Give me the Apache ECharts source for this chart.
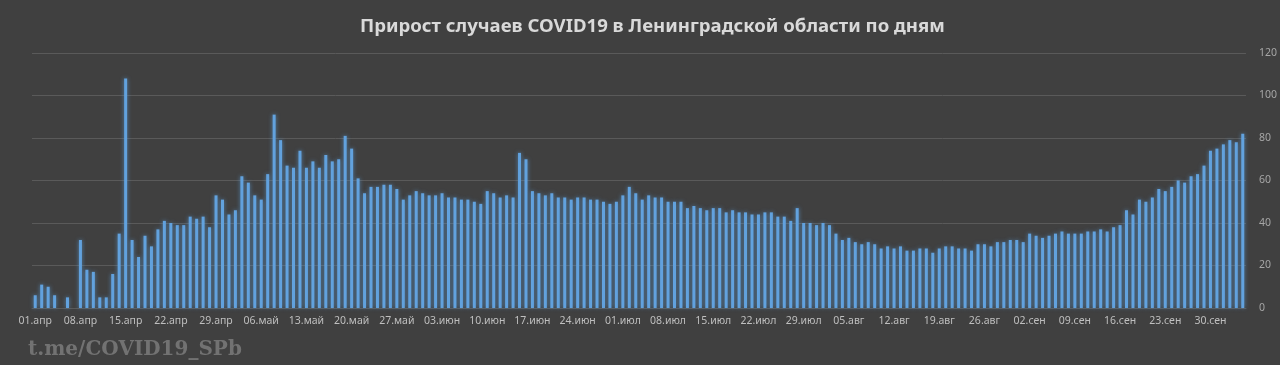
<!DOCTYPE html>
<html><head><meta charset="utf-8">
<script src="https://cdn.jsdelivr.net/npm/echarts@6/dist/echarts.min.js"></script>
<style>html,body{margin:0;padding:0;background:#404040;}#c{width:1280px;height:365px;}</style>
</head><body><div id="c"></div>
<script>
const months = [['апр',30],['май',31],['июн',30],['июл',31],['авг',31],['сен',30],['окт',5]];
const apr = [6,11,10,6,0,5,0,32,18,17,5,5,16,35,108,32,24,34,29,37,41,40,39,39,43,42,43,38,53,51];
const may = [44,46,62,59,53,51,63,91,79,67,66,74,66,69,66,72,69,70,81,75,61,54,57,57,58,58,56,51,53,55,54];
const jun = [53,53,54,52,52,51,51,50,49,55,54,52,53,52,73,70,55,54,53,54,52,52,51,52,52,51,51,50,49,50];
const jul = [53,57,54,51,53,52,52,50,50,50,47,48,47,46,47,47,45,46,45,45,44,44,45,45,43,43,41,47,40,40,39];
const aug = [40,39,35,32,33,31,30,31,30,28,29,28,29,27,27,28,28,26,28,29,29,28,28,27,30,30,29,31,31,32,32];
const sep = [31,35,34,33,34,35,36,35,35,35,36,36,37,36,38,39,46,44,51,50,52,56,55,57,60,59,62,63,67,74];
const oct = [75,77,79,78,82];
const yTicks = [0,20,40,60,80,100,120];

const categories = [];
months.forEach(([m,n]) => { for (let d = 1; d <= n; d++) categories.push((d<10?'0':'')+d+'.'+m); });
const values = [].concat(apr, may, jun, jul, aug, sep, oct);

const chart = echarts.init(document.getElementById('c'));
chart.setOption({
  backgroundColor: '#404040',
  animation: false,
  title: {
    text: 'Прирост случаев COVID19 в Ленинградской области по дням',
    left: 355, top: 12,
    textStyle: { color: '#d9d9d9', fontSize: 18.6, fontWeight: 'bold', fontFamily: 'Noto Sans' }
  },
  graphic: [{
    type: 'text', left: 28, top: 340,
    style: { text: 't.me/COVID19_SPb', fill: '#727272', font: 'bold 20px "DejaVu Serif"' }
  }],
  grid: { left: 32, right: 30, top: 53, bottom: 57 },
  xAxis: {
    type: 'category', data: categories,
    axisLine: { show: true, lineStyle: { color: '#5a5a5a' } },
    axisTick: { show: false },
    axisLabel: {
      color: '#bfbfbf', fontSize: 10.5, fontFamily: 'Noto Sans', margin: 8,
      interval: (i) => i % 7 === 0
    }
  },
  yAxis: {
    type: 'value', position: 'right', min: 0, max: 120, interval: 20,
    axisLine: { show: false }, axisTick: { show: false },
    axisLabel: { color: '#a6a6a6', fontSize: 10.5, fontFamily: 'Noto Sans', margin: 13,
      formatter: (v) => yTicks.includes(v) ? String(v) : '' },
    splitLine: { lineStyle: { color: '#5a5a5a', width: 1 } }
  },
  series: [{
    type: 'bar', data: values, barWidth: 3,
    itemStyle: { color: '#62a2de', shadowBlur: 4, shadowColor: 'rgba(91,155,213,0.75)' }
  }]
});
</script></body></html>
